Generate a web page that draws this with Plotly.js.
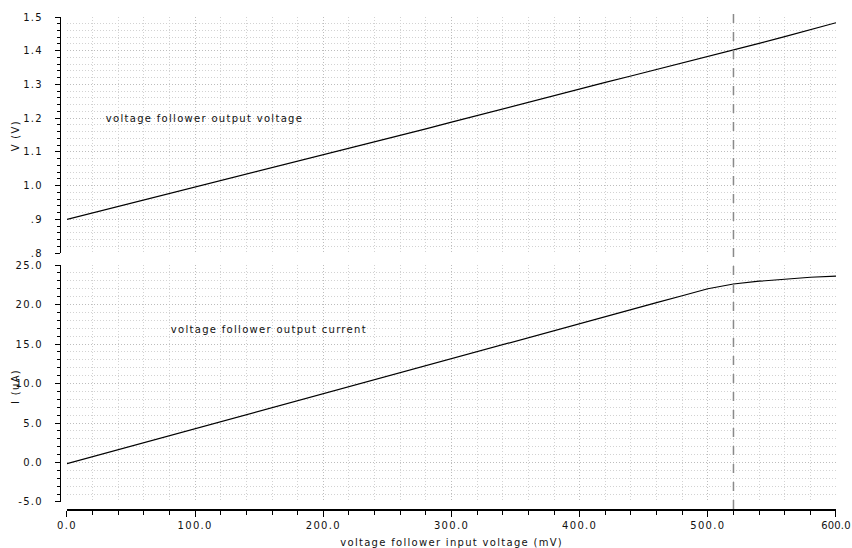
<!DOCTYPE html>
<html>
<head>
<meta charset="utf-8">
<script src="https://cdn.plot.ly/plotly-3.0.1.min.js"></script>
<style>
  html, body { margin: 0; padding: 0; background: #fff; }
  #chart { width: 852px; height: 548px; }
  .main-svg text { letter-spacing: 1.3px; }
  .main-svg .xtick:last-child text { letter-spacing: 0.2px; }
</style>
</head>
<body>
<div id="chart"></div>
<script>
// Input voltage sweep (mV)
const inputVoltageMv = [0, 20, 40, 60, 80, 100, 120, 140, 160, 180, 200, 220, 240, 260, 280, 300,
  320, 340, 360, 380, 400, 420, 440, 460, 480, 500, 520, 540, 560, 580, 600];
// Voltage follower output voltage (V)
const outputVoltageV = [0.900, 0.919, 0.938, 0.957, 0.976, 0.995, 1.014, 1.033, 1.052, 1.071, 1.090,
  1.109, 1.129, 1.149, 1.168, 1.188, 1.208, 1.228, 1.248, 1.268, 1.287, 1.306, 1.325, 1.344, 1.363,
  1.382, 1.401, 1.422, 1.442, 1.462, 1.483];
// Voltage follower output current (uA)
const outputCurrentUa = [-0.15, 0.74, 1.62, 2.51, 3.39, 4.28, 5.17, 6.05, 6.94, 7.82, 8.71, 9.60,
  10.48, 11.37, 12.25, 13.14, 14.03, 14.91, 15.80, 16.68, 17.57, 18.46, 19.34, 20.23, 21.11, 22.0,
  22.6, 22.95, 23.2, 23.45, 23.6];
const markerX = 520;

const xTickVals = [0, 100, 200, 300, 400, 500, 600];
const xTickText = ["0.0", "100.0", "200.0", "300.0", "400.0", "500.0", "600.0"];
const vTickVals = [0.8, 0.9, 1.0, 1.1, 1.2, 1.3, 1.4, 1.5];
const vTickText = [".8", ".9", "1.0", "1.1", "1.2", "1.3", "1.4", "1.5"];
const iTickVals = [-5, 0, 5, 10, 15, 20, 25];
const iTickText = ["-5.0", "0.0", "5.0", "10.0", "15.0", "20.0", "25.0"];

const labelTop = "voltage follower output voltage";
const labelBottom = "voltage follower output current";
const xTitle = "voltage follower input voltage (mV)";
const vTitle = "V (V)";
const iTitle = "I (uA)";

const FONT = "DejaVu Sans, Arial, sans-serif";
const TEXT = "#111";
const tickFont = { family: FONT, size: 10, color: TEXT };
const gridMajor = "#bdbdbd";
const gridMinor = "#d2d2d2";
const gridDash = "1px,2px";

const traces = [
  { x: inputVoltageMv, y: outputVoltageV, xaxis: "x", yaxis: "y2", type: "scatter", mode: "lines",
    line: { color: "#000", width: 1.2 }, hoverinfo: "skip" },
  { x: inputVoltageMv, y: outputCurrentUa, xaxis: "x", yaxis: "y", type: "scatter", mode: "lines",
    line: { color: "#000", width: 1.2 }, hoverinfo: "skip" }
];

function yAxis(domain, range, tv, tt, minorDtick) {
  return {
    domain: domain, range: range, anchor: "free", position: 0, side: "left",
    showline: true, linecolor: "#000", linewidth: 1,
    ticks: "outside", ticklen: 5, tickcolor: "#000", tickwidth: 1,
    tickmode: "array", tickvals: tv, ticktext: tt, tickfont: tickFont, ticklabelstandoff: 10,
    showgrid: true, gridcolor: gridMajor, griddash: gridDash, gridwidth: 1, zeroline: false,
    minor: { dtick: minorDtick, tick0: range[0], ticks: "outside", ticklen: 3, tickcolor: "#000",
             showgrid: true, gridcolor: gridMinor, griddash: gridDash, gridwidth: 1 },
    fixedrange: true
  };
}

const layout = {
  width: 852, height: 548,
  margin: { l: 60, r: 16, t: 17, b: 39 },
  paper_bgcolor: "#fff", plot_bgcolor: "#fff",
  showlegend: false,
  xaxis: {
    domain: [0.00902, 1], range: [0, 600], anchor: "free", position: 0,
    showline: true, linecolor: "#000", linewidth: 1.5,
    ticks: "outside", ticklen: 6, tickcolor: "#000", tickwidth: 1,
    tickmode: "array", tickvals: xTickVals, ticktext: xTickText, tickfont: tickFont,
    showgrid: true, gridcolor: gridMajor, griddash: gridDash, gridwidth: 1, zeroline: false,
    minor: { dtick: 20, tick0: 0, ticks: "outside", ticklen: 4, tickcolor: "#000",
             showgrid: true, gridcolor: gridMinor, griddash: gridDash, gridwidth: 1 },
    fixedrange: true
  },
  yaxis: yAxis([0.01423, 0.4959], [-5, 25], iTickVals, iTickText, 1),
  yaxis2: yAxis([0.5203, 1], [0.8, 1.5], vTickVals, vTickText, 0.02),
  shapes: [
    { type: "line", xref: "x", yref: "paper", x0: markerX, x1: markerX, y0: 0, y1: 1.012,
      line: { color: "#8a8a8a", width: 1.5, dash: "dash" } }
  ],
  annotations: [
    { text: labelTop, xref: "x", yref: "y2", x: 107.6, y: 1.2, xanchor: "center", yanchor: "middle",
      showarrow: false, font: { family: FONT, size: 10, color: TEXT } },
    { text: labelBottom, xref: "x", yref: "y", x: 157.6, y: 16.9, xanchor: "center", yanchor: "middle",
      showarrow: false, font: { family: FONT, size: 10, color: TEXT } },
    { text: xTitle, xref: "paper", yref: "paper", x: 0.505, y: -0.069, xanchor: "center", yanchor: "middle",
      showarrow: false, font: { family: FONT, size: 10, color: TEXT } },
    { text: vTitle, xref: "paper", yref: "paper", x: -0.058, y: 0.760, xanchor: "center", yanchor: "middle",
      textangle: -90, showarrow: false, font: { family: FONT, size: 10, color: TEXT } },
    { text: iTitle, xref: "paper", yref: "paper", x: -0.058, y: 0.25, xanchor: "center", yanchor: "middle",
      textangle: -90, showarrow: false, font: { family: FONT, size: 10, color: TEXT } }
  ]
};

Plotly.newPlot("chart", traces, layout, { displayModeBar: false, staticPlot: true });
</script>
</body>
</html>
